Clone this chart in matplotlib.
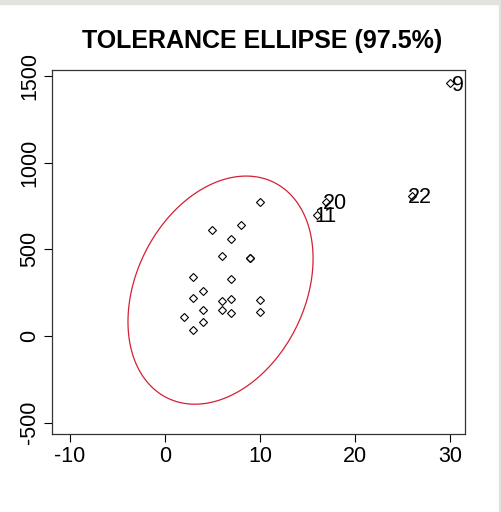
import numpy as np
import matplotlib
matplotlib.use('Agg')
import matplotlib.pyplot as plt
from matplotlib.patches import Rectangle, Polygon

plt.rcParams['font.family'] = ['Liberation Sans', 'DejaVu Sans']
plt.rcParams['axes.unicode_minus'] = False

# regular observations
x_pts = [10, 8, 5, 7, 6, 9, 9, 3, 7, 4, 3, 6, 7, 10, 4, 6, 7, 10, 2, 4, 3]
y_pts = [775, 640, 610, 560, 460, 450, 450, 340, 330, 260, 220, 200, 215, 210,
         150, 150, 135, 140, 110, 80, 35]

# flagged observations, with their case numbers
out_x = [30, 26, 17, 16]
out_y = [1460, 810, 775, 700]
out_labels = ['9', '22', '20', '11']

# tolerance ellipse: centre and shape matrix
centre = np.array([5.85, 265.0])
shape = np.array([[95.0, 1777.0],
                  [1777.0, 432964.0]])

fig = plt.figure(figsize=(5.02, 5.12), dpi=100)
fig.patch.set_facecolor('white')
fig.patches.append(Rectangle((0, 508/512), 1, 4/512, transform=fig.transFigure,
                             color='#e4e2dc', zorder=-1))
fig.patches.append(Rectangle((499/502, 0), 3/502, 1, transform=fig.transFigure,
                             color='#e4e2dc', zorder=-1))

ax = fig.add_axes([52/502, 1 - 434/512, 413/502, 364/512])

# ellipse outline (closed polygon, no seam)
t = np.linspace(0, 2*np.pi, 720, endpoint=False)
L = np.linalg.cholesky(shape)
ell = centre[:, None] + L @ np.vstack((np.cos(t), np.sin(t)))
ax.add_patch(Polygon(ell.T, closed=True, fill=False, edgecolor='#d42035',
                     linewidth=0.9))

ax.plot(x_pts, y_pts, linestyle='none', marker='D', markersize=4,
        markerfacecolor='none', markeredgecolor='black', markeredgewidth=0.8)
ax.plot(out_x, out_y, linestyle='none', marker='D', markersize=4,
        markerfacecolor='none', markeredgecolor='black', markeredgewidth=0.8)
for xi, yi, lab in zip(out_x, out_y, out_labels):
    ax.annotate(lab, (xi, yi), xytext=(6, -1.5), textcoords='offset points',
                ha='center', va='center', fontsize=15.5)

ax.set_xlim(-11.9, 31.6)
ax.set_ylim(-565, 1535)
ax.set_xticks([-10, 0, 10, 20, 30])
ax.set_yticks([-500, 0, 500, 1000, 1500])
ax.tick_params(axis='both', direction='out', length=6, width=0.8,
               labelsize=15.5)
ax.tick_params(axis='x', pad=2.5)
ax.tick_params(axis='y', pad=2.5)
for lab in ax.get_yticklabels():
    lab.set_rotation(90)
    lab.set_va('center')
for sp in ax.spines.values():
    sp.set_linewidth(0.9)
    sp.set_color('#333333')

fig.text(262/502, 1 - 41/512, 'TOLERANCE ELLIPSE (97.5%)', ha='center',
         va='center', fontsize=18, fontweight='bold')

fig.savefig('out.png', dpi=100)
